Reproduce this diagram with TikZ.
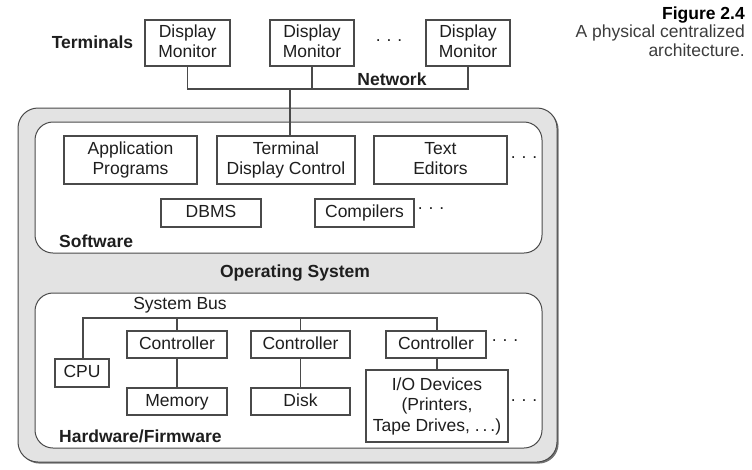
\documentclass[tikz,border=0pt]{standalone}
\usepackage{fontspec}
\setmainfont{Liberation Sans}
\usetikzlibrary{shadows}
\definecolor{linec}{HTML}{4A4A4A}
\definecolor{osfill}{HTML}{E3E3E3}
\definecolor{txt}{HTML}{1E1E1E}
\definecolor{captc}{HTML}{3C3C3C}
\newcommand{\vs}{\rule[-3.8pt]{0pt}{16.6pt}}
\tikzset{
  base/.style={font=\fontsize{17.5}{20.5}\selectfont, text=txt, inner sep=0pt},
  box/.style={base, draw=linec, line width=1.1pt, fill=white, rectangle, align=center},
  lbl/.style={base, font=\fontsize{17.5}{20.5}\selectfont\bfseries},
  dotsl/.style={base},
  conn/.style={draw=linec, line width=1.1pt},
  osbox/.style={draw=linec, line width=1pt, fill=osfill, rounded corners=20pt,
     drop shadow={shadow xshift=1.6pt, shadow yshift=-1.6pt, fill=black!55, opacity=1}},
  layerbox/.style={draw=linec, line width=1pt, fill=white, rounded corners=18pt},
}
\begin{document}
\begin{tikzpicture}[x=1pt, y=-1pt]
\useasboundingbox (0,0) rectangle (752,469);
% containers
\node[osbox, minimum width=539pt, minimum height=354pt, inner sep=0pt] (os) at (287.5,285) {};
\node[layerbox, minimum width=507pt, minimum height=131pt, inner sep=0pt] (sw) at (288.5,187.5) {};
\node[layerbox, minimum width=507pt, minimum height=155pt, inner sep=0pt] (hw) at (288.5,370.5) {};
% terminals
\node[lbl] (term) at (92.5,42) {Terminals};
\node[box, minimum width=85pt, minimum height=46pt] (dm1) at (187.5,43) {\vs Display\\Monitor\vs};
\node[box, minimum width=84pt, minimum height=46pt] (dm2) at (312,43) {\vs Display\\Monitor\vs};
\node[box, minimum width=84pt, minimum height=46pt] (dm3) at (468,43) {\vs Display\\Monitor\vs};
\node[dotsl] (tdots) at (389,41) {.\,\,.\,\,.};
\node[lbl] (net) at (392,79) {Network};
\coordinate (n1) at (187.5,89);
\coordinate (n2) at (312,89);
\coordinate (n3) at (468,89);
\coordinate (nc) at (290,89);
% software
\node[box, minimum width=133pt, minimum height=48pt] (ap) at (130.5,160) {\vs Application\\Programs\vs};
\node[box, minimum width=138pt, minimum height=48pt] (tdc) at (286,160) {\vs Terminal\\Display Control\vs};
\node[box, minimum width=133pt, minimum height=48pt] (te) at (440.5,160) {\vs Text\\Editors\vs};
\node[dotsl] (sdots1) at (524,158) {.\,\,.\,\,.};
\node[box, minimum width=100pt, minimum height=28pt] (dbms) at (211,213) {DBMS\vs};
\node[box, minimum width=99pt, minimum height=28pt] (comp) at (364.5,213) {Compilers\vs};
\node[dotsl] (sdots2) at (431,209) {.\,\,.\,\,.};
\node[lbl, anchor=west] (swl) at (59,241) {Software};
\node[lbl] (osl) at (295,273) {Operating System};
% hardware
\node[base] (bus) at (180,305) {System Bus};
\coordinate (b0) at (83,318);
\coordinate (b1) at (177,318);
\coordinate (b2) at (300.5,318);
\coordinate (b3) at (437,318);
\node[box, minimum width=54pt, minimum height=28pt] (cpu) at (82,373) {CPU\vs};
\node[box, minimum width=100pt, minimum height=27pt] (c1) at (177,344.5) {Controller\vs};
\node[box, minimum width=100pt, minimum height=27pt] (mem) at (177,401.5) {Memory\vs};
\node[box, minimum width=99pt, minimum height=27pt] (c2) at (300.5,344.5) {Controller\vs};
\node[box, minimum width=99pt, minimum height=27pt] (disk) at (300.5,401.5) {Disk\vs};
\node[box, minimum width=100pt, minimum height=27pt] (c3) at (436,344.5) {Controller\vs};
\node[dotsl] (hdots1) at (505,341) {.\,\,.\,\,.};
\node[box, minimum width=142pt, minimum height=72pt] (io) at (437,406) {\vs I/O Devices\\(Printers,\\Tape Drives, .\,.\,.)\vs};
\node[dotsl] (hdots2) at (524,401) {.\,\,.\,\,.};
\node[lbl, anchor=west] (hwl) at (59,436) {Hardware/Firmware};
% caption
\node[lbl, anchor=east, text=black] (fig) at (745,15) {Figure 2.4};
\node[base, anchor=east, text=captc] (cap1) at (745,33) {A physical centralized};
\node[base, anchor=east, text=captc] (cap2) at (745,50) {architecture.};
% connectors
\draw[conn] (dm1.south) -- (n1) -- (n3) -- (dm3.south);
\draw[conn] (dm2.south) -- (n2);
\draw[conn] (nc) -- (tdc.north -| nc);
\draw[conn] (cpu.north -| b0) -- (b0) -- (b3) -- (c3.north -| b3);
\draw[conn] (b1) -- (c1.north -| b1);
\draw[conn] (b2) -- (c2.north -| b2);
\draw[conn] (c1) -- (mem);
\draw[conn] (c2) -- (disk);
\draw[conn] (c3.south -| b3) -- (io.north -| b3);
\end{tikzpicture}
\end{document}
